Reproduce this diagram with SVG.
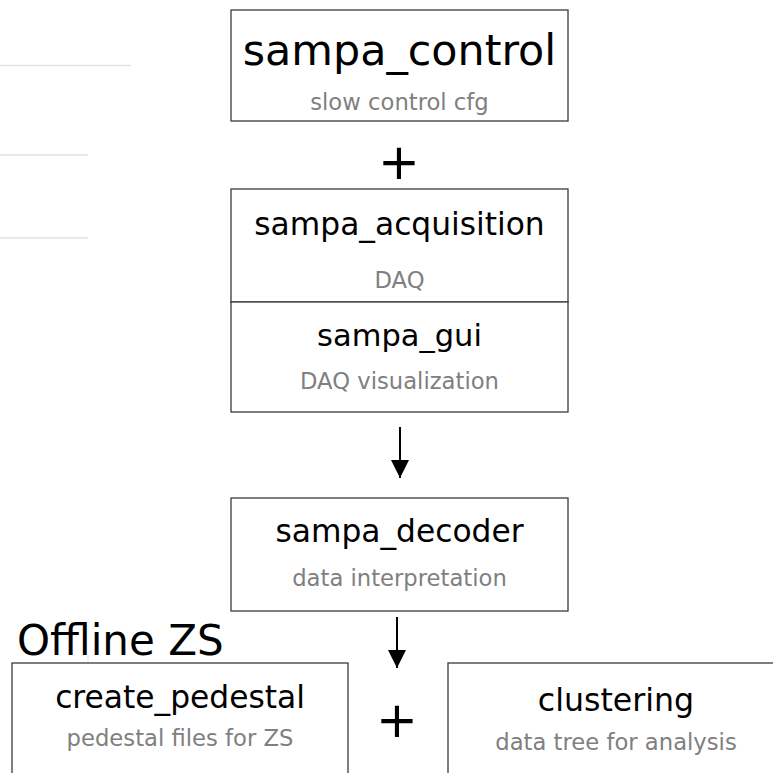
<svg xmlns="http://www.w3.org/2000/svg" width="773" height="773" viewBox="0 0 773 773">
  <style>
    .box { fill: #ffffff; stroke: #3a3a3a; stroke-width: 1.3; }
    .title { font-family: "DejaVu Sans", sans-serif; fill: #000000; text-anchor: middle; }
    .sub { font-family: "DejaVu Sans", sans-serif; fill: #808080; font-size: 22.7px; text-anchor: middle; }
    .plus { font-family: "DejaVu Sans", sans-serif; fill: #000000; font-size: 50px; text-anchor: middle; }
    .edge { stroke: #000000; stroke-width: 2; fill: none; }
    .faint { stroke: #e2e2e2; stroke-width: 1.5; }
  </style>
  <defs>
    <marker id="arrow" viewBox="0 0 18 18" refX="18" refY="9" markerWidth="18" markerHeight="18" markerUnits="userSpaceOnUse" orient="auto">
      <path d="M0,0 L18,9 L0,18 Z" fill="#000000"/>
    </marker>
  </defs>
  <rect width="773" height="773" fill="#ffffff"/>

  <!-- light rules at the left margin -->
  <g id="margin-rules">
    <line class="faint" x1="0" y1="65.5" x2="131" y2="65.5"/>
    <line class="faint" x1="0" y1="155" x2="88" y2="155"/>
    <line class="faint" x1="0" y1="238" x2="88" y2="238"/>
    <line x1="88" y1="655" x2="88" y2="680" stroke="#eef0f6" stroke-width="2"/>
  </g>

  <g id="sampa_control">
    <rect class="box" x="231" y="10" width="337" height="111"/>
    <text class="title" x="399.5" y="65" font-size="42.8">sampa_control</text>
    <text class="sub" x="399.5" y="110">slow control cfg</text>
  </g>

  <text class="plus" id="plus-top" x="399" y="179">+</text>

  <g id="sampa_acquisition">
    <rect class="box" x="231" y="189" width="337" height="113"/>
    <text class="title" x="399.5" y="235" font-size="31.3">sampa_acquisition</text>
    <text class="sub" x="399.5" y="288">DAQ</text>
  </g>

  <g id="sampa_gui">
    <rect class="box" x="231" y="302" width="337" height="110"/>
    <text class="title" x="399.5" y="346" font-size="30.5">sampa_gui</text>
    <text class="sub" x="399.5" y="389">DAQ visualization</text>
  </g>

  <g id="sampa_decoder">
    <rect class="box" x="231" y="498" width="337" height="113"/>
    <text class="title" x="399.5" y="542" font-size="31.3">sampa_decoder</text>
    <text class="sub" x="399.5" y="586">data interpretation</text>
  </g>

  <text id="offline-zs" x="17" y="655" font-family="DejaVu Sans, sans-serif" font-size="42" fill="#000000">Offline ZS</text>

  <g id="create_pedestal">
    <rect class="box" x="12" y="663" width="336" height="130"/>
    <text class="title" x="180" y="708" font-size="31.3">create_pedestal</text>
    <text class="sub" x="180" y="746">pedestal files for ZS</text>
  </g>

  <text class="plus" id="plus-bottom" x="397" y="737">+</text>

  <g id="clustering">
    <rect class="box" x="448" y="663" width="340" height="130"/>
    <text class="title" x="616" y="711" font-size="31.6">clustering</text>
    <text class="sub" x="616" y="750">data tree for analysis</text>
  </g>

  <g id="connectors">
    <line class="edge" x1="400" y1="427" x2="400" y2="478" marker-end="url(#arrow)"/>
    <line class="edge" x1="397" y1="617" x2="397" y2="668" marker-end="url(#arrow)"/>
  </g>
</svg>
